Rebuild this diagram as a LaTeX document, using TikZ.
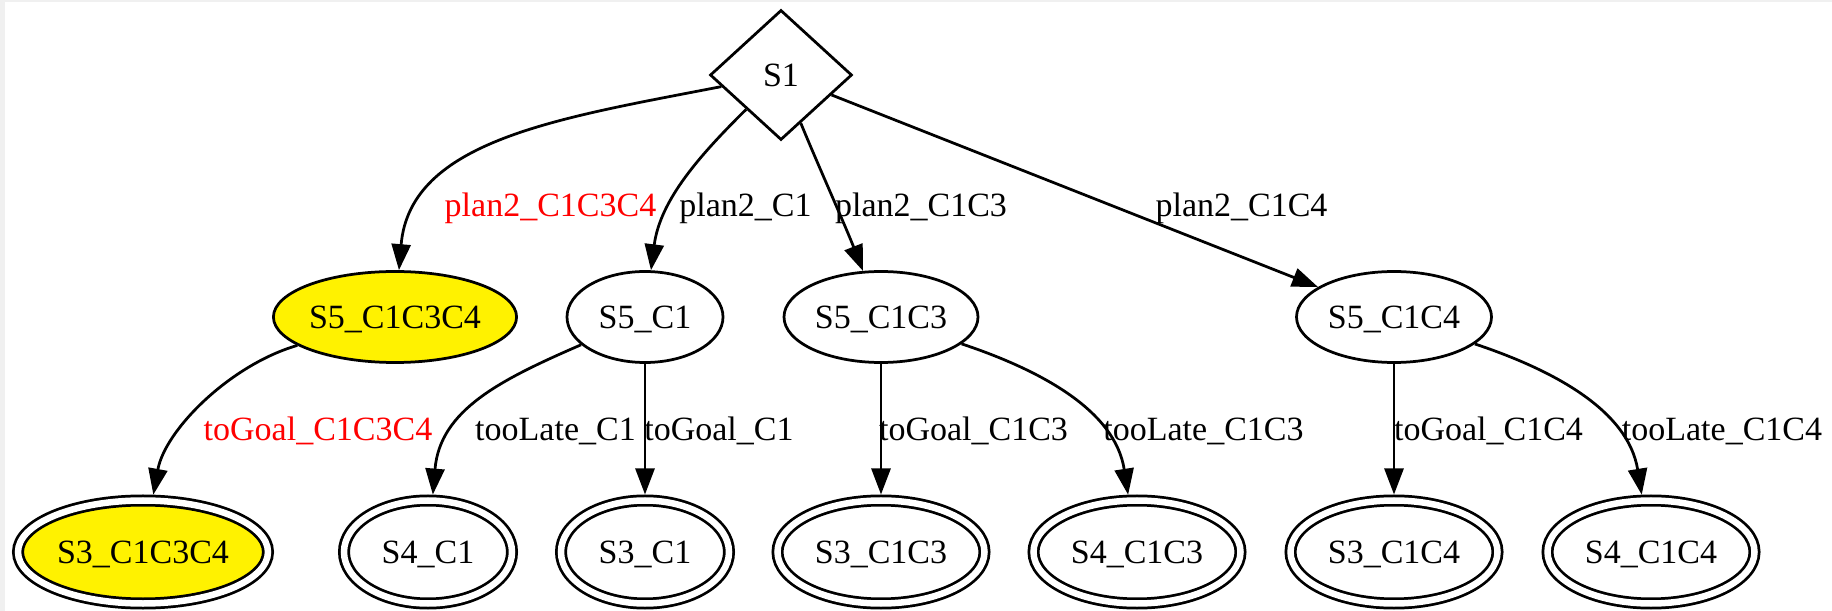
\documentclass[tikz,border=0pt]{standalone}
\usepackage{fontspec}
\setmainfont{Liberation Serif}
\usetikzlibrary{shapes.geometric,arrows.meta}
\begin{document}
\begin{tikzpicture}[x=0.4pt,y=-0.4pt,
  every node/.style={font=\fontsize{13.6pt}{16pt}\selectfont},
  st/.style={ellipse, draw, line width=1.1pt, inner sep=0pt, text height=9pt, text depth=0pt, minimum height=36.4pt},
  fin/.style={ellipse, draw, line width=1.1pt, double=white, double distance=2.6pt, outer sep=2.4pt, inner sep=0pt, text height=9pt, text depth=0pt, minimum height=41.2pt},
  hl/.style={fill=yellow},
  lab/.style={anchor=base, inner sep=0pt},
  conn/.style={line width=1.1pt, -{Triangle[length=10.4pt,width=7.6pt]}}]
\useasboundingbox (0,0) rectangle (1832,611);
\fill[black!6] (0,0) rectangle (5,611);
\fill[black!6] (0,0) rectangle (1832,2);
% nodes
\node[diamond, draw, line width=1.1pt, inner sep=0pt, minimum width=56.8pt, minimum height=52pt, text height=9pt, text depth=0pt] (S1) at (781,75) {S1};
\node[st, hl, minimum width=95.2pt] (a) at (395,317) {S5\_C1C3C4};
\node[st, minimum width=62.4pt] (b) at (645,317) {S5\_C1};
\node[st, minimum width=77.6pt] (c) at (881,317) {S5\_C1C3};
\node[st, minimum width=78pt] (d) at (1394,317) {S5\_C1C4};
\node[fin, hl, minimum width=100pt] (a1) at (143,552) {S3\_C1C3C4};
\node[fin, minimum width=67.2pt] (b1) at (428,552) {S4\_C1};
\node[fin, minimum width=67.2pt] (b2) at (645,552) {S3\_C1};
\node[fin, minimum width=82.8pt] (c1) at (881,552) {S3\_C1C3};
\node[fin, minimum width=82.8pt] (c2) at (1137,552) {S4\_C1C3};
\node[fin, minimum width=82.8pt] (d1) at (1394,552) {S3\_C1C4};
\node[fin, minimum width=82.8pt] (d2) at (1651,552) {S4\_C1C4};
% edges
\draw[conn] (S1) .. controls (560,118) and (410,140) .. (a);
\draw[conn] (S1) .. controls (700,155) and (660,200) .. (b);
\draw[conn] (S1) .. controls (818,165) and (845,225) .. (c);
\draw[conn] (S1) -- (d);
\draw[conn] (a) .. controls (230,365) and (165,430) .. (a1);
\draw[conn] (b) .. controls (500,380) and (440,410) .. (b1);
\draw[conn] (b) -- (b2);
\draw[conn] (c) -- (c1);
\draw[conn] (c) .. controls (1040,370) and (1115,410) .. (c2);
\draw[conn] (d) -- (d1);
\draw[conn] (d) .. controls (1553,370) and (1628,410) .. (d2);
% edge labels
\node[lab, text=red] (l1) at (550.5,217) {plan2\_C1C3C4};
\node[lab] (l2) at (745.5,217) {plan2\_C1};
\node[lab] (l3) at (921,217) {plan2\_C1C3};
\node[lab] (l4) at (1241.5,217) {plan2\_C1C4};
\node[lab, text=red] (l5) at (318,441) {toGoal\_C1C3C4};
\node[lab] (l6) at (555.5,441) {tooLate\_C1};
\node[lab] (l7) at (719,441) {toGoal\_C1};
\node[lab] (l8) at (973.5,441) {toGoal\_C1C3};
\node[lab] (l9) at (1203.5,441) {tooLate\_C1C3};
\node[lab] (l10) at (1488.5,441) {toGoal\_C1C4};
\node[lab] (l11) at (1722,441) {tooLate\_C1C4};
\end{tikzpicture}
\end{document}
